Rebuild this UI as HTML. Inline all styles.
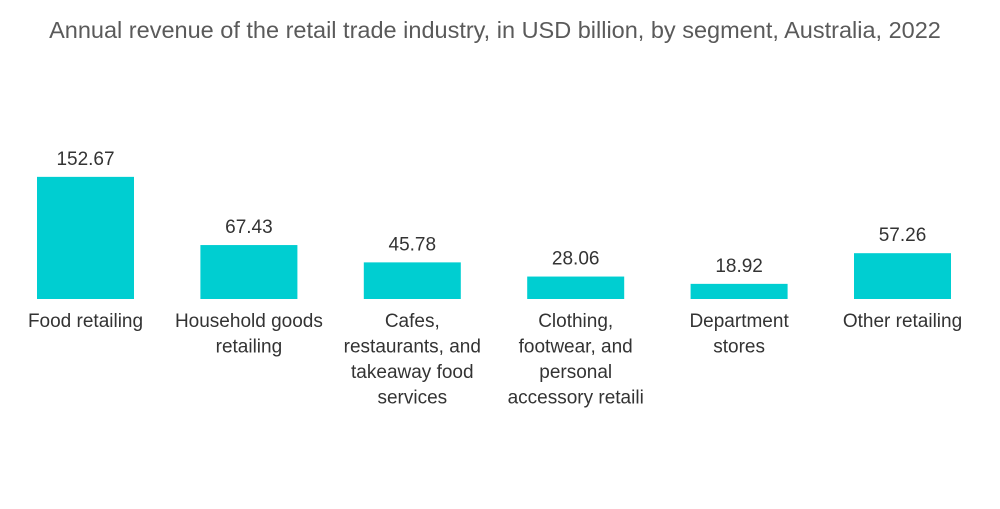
<!DOCTYPE html>
<html>
<head>
<meta charset="utf-8">
<style>
  html,body{margin:0;padding:0;background:#fff;}
  body{width:1000px;height:504px;overflow:hidden;font-family:"Liberation Sans",sans-serif;}
  svg text{font-family:"Liberation Sans",sans-serif;}
</style>
</head>
<body>
<svg id="chart" width="1000" height="504">
  <text x="495" y="38" text-anchor="middle" font-size="23.5" fill="#5a5a5a">Annual revenue of the retail trade industry, in USD billion, by segment, Australia, 2022</text>
  <g id="bars"></g>
</svg>
<script>
const categories = [
  ["Food retailing"],
  ["Household goods","retailing"],
  ["Cafes,","restaurants, and","takeaway food","services"],
  ["Clothing,","footwear, and","personal","accessory retaili"],
  ["Department","stores"],
  ["Other retailing"]
];
const values = [152.67, 67.43, 45.78, 28.06, 18.92, 57.26];
const valueLabels = ["152.67","67.43","45.78","28.06","18.92","57.26"];

const baseY = 299, pxPerUnit = 0.8, firstCenter = 85.5, step = 163.4, barW = 97;
function xScale(i){ return firstCenter + i*step; }
function yScale(v){ return baseY - v*pxPerUnit; }

const g = document.getElementById('bars');
const NS = "http://www.w3.org/2000/svg";
values.forEach((v,i)=>{
  const cx = xScale(i), top = yScale(v);
  const r = document.createElementNS(NS,'rect');
  r.setAttribute('x', cx - barW/2);
  r.setAttribute('y', top);
  r.setAttribute('width', barW);
  r.setAttribute('height', baseY - top);
  r.setAttribute('fill', '#00ced1');
  
  
  g.appendChild(r);

  const t = document.createElementNS(NS,'text');
  t.setAttribute('x', cx);
  t.setAttribute('y', top - 12);
  t.setAttribute('text-anchor','middle');
  t.setAttribute('font-size','19');
  t.setAttribute('fill','#333');
  t.textContent = valueLabels[i];
  
  
  g.appendChild(t);

  categories[i].forEach((line,j)=>{
    const c = document.createElementNS(NS,'text');
    c.setAttribute('x', cx);
    c.setAttribute('y', 327 + j*25.5);
    c.setAttribute('text-anchor','middle');
    c.setAttribute('font-size','19');
    c.setAttribute('fill','#333');
    c.textContent = line;
    
    
    g.appendChild(c);
  });
});
</script>
</body>
</html>
